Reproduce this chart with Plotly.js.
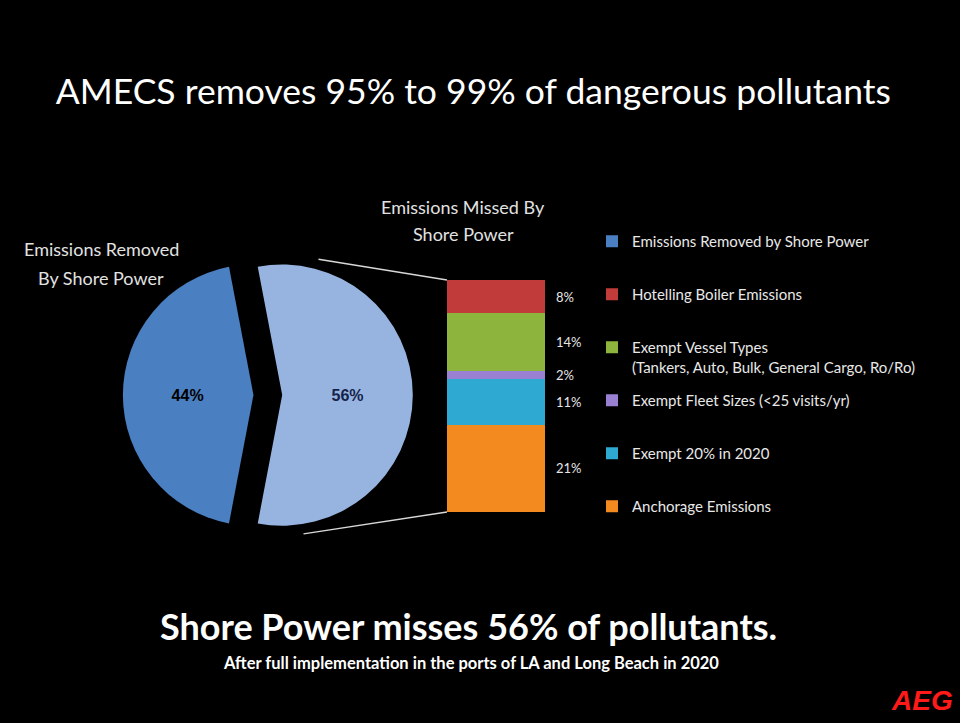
<!DOCTYPE html>
<html>
<head>
<meta charset="utf-8">
<script src="https://cdn.plot.ly/plotly-3.0.1.min.js"></script>
<style>html,body{margin:0;padding:0;background:#000;}#chart{width:960px;height:723px;}</style>
</head>
<body>
<div id="chart"></div>
<script>
// ---- data ----
var pieLabels = ["Emissions Removed by Shore Power", "Emissions Missed by Shore Power"];
var pieValues = [44, 56];
var pieColors = ["#4a7fc2", "#97b4e0"];

// Breakdown of the missed share, listed top-to-bottom as in the legend
var missedLabels = [
  "Hotelling Boiler Emissions",
  "Exempt Vessel Types<br>(Tankers, Auto, Bulk, General Cargo, Ro/Ro)",
  "Exempt Fleet Sizes (<25 visits/yr)",
  "Exempt 20% in 2020",
  "Anchorage Emissions"
];
var missedValues = [8, 14, 2, 11, 21];
var missedColors = ["#c13b3a", "#8db43c", "#9a80d2", "#2ea9d2", "#f28a20"];

var titleText = "AMECS removes 95% to 99% of dangerous pollutants";
var subText = "Shore Power misses 56% of pollutants.";
var noteText = "After full implementation in the ports of LA and Long Beach in 2020";

// ---- build ----
var FONT = "Lato, 'Open Sans', sans-serif";
var traces = [];

// first slice centred at 9 o'clock
var firstSpan = pieValues[0] / (pieValues[0] + pieValues[1]) * 360;
traces.push({
  type: "pie",
  labels: pieLabels,
  values: pieValues,
  sort: false,
  direction: "counterclockwise",
  rotation: -90 - firstSpan / 2,
  pull: [0.11, 0.11],
  marker: { colors: pieColors, line: { width: 0 } },
  textinfo: "percent",
  texttemplate: "%{percent:.0%}",
  textposition: "inside",
  insidetextorientation: "horizontal",
  textfont: { family: "'Liberation Sans', Arial, sans-serif", size: 16, color: ["#000000", "#15234a"], weight: "bold" },
  domain: { x: [0.128, 0.430], y: [0.253, 0.654] },
  showlegend: false,
  hoverinfo: "label+percent"
});

// legend entry for the removed share (zero-height, stacked at the base)
traces.push({
  type: "bar",
  x: [0], y: [0],
  name: pieLabels[0] + "<br> ",
  marker: { color: pieColors[0], line: { width: 0 } },
  width: 1,
  legendrank: 1,
  legendgroup: "g0",
  hoverinfo: "skip",
  xaxis: "x", yaxis: "y"
});

// stacked bar: bottom segment first
for (var i = missedValues.length - 1; i >= 0; i--) {
  var lbl = missedLabels[i].indexOf("<br>") >= 0 ? missedLabels[i] : missedLabels[i] + "<br> ";
  traces.push({
    type: "bar",
    x: [0],
    y: [missedValues[i]],
    name: lbl,
    marker: { color: missedColors[i], line: { width: 0 } },
    width: 1,
    legendrank: i + 2,
    legendgroup: "g" + (i + 1),
    hoverinfo: "name+y",
    xaxis: "x", yaxis: "y"
  });
}

// value labels to the right of the stacked bar
var annotations = [];
var cum = 0;
for (var j = missedValues.length - 1; j >= 0; j--) {
  var mid = cum + missedValues[j] / 2;
  cum += missedValues[j];
  annotations.push({
    xref: "x", yref: "y", x: 0.5, y: mid, xanchor: "left", xshift: 9,
    text: missedValues[j] + "%", showarrow: false,
    font: { family: FONT, size: 13, color: "#e6e6e6" }
  });
}
var total = cum;

// connector lines from the pie to the bar
annotations.push({
  xref: "x", yref: "y", x: -0.5, y: total, text: "", showarrow: true,
  arrowhead: 0, arrowwidth: 1.3, arrowcolor: "#d8d8d8", ax: -130, ay: -21
});
annotations.push({
  xref: "x", yref: "y", x: -0.5, y: 0, text: "", showarrow: true,
  arrowhead: 0, arrowwidth: 1.3, arrowcolor: "#d8d8d8", ax: -145, ay: 22
});

function txt(x, y, s, size, anchor) {
  annotations.push({
    xref: "paper", yref: "paper", x: x / 960, y: 1 - y / 723,
    xanchor: anchor || "center", yanchor: "middle",
    text: s, showarrow: false,
    font: { family: FONT, size: size, color: "#e2e2e2" }
  });
}
txt(101, 249, "Emissions Removed", 18);
txt(101, 278, "By Shore Power", 18);
txt(463, 207, "Emissions Missed By", 18);
txt(463, 234, "Shore Power", 18);

annotations.push({
  xref: "paper", yref: "paper", x: 468 / 960, y: 1 - 626 / 723, xanchor: "center", yanchor: "middle",
  text: "<b>" + subText + "</b>", showarrow: false,
  font: { family: FONT, size: 36, color: "#ffffff" }
});
annotations.push({
  xref: "paper", yref: "paper", x: 471 / 960, y: 1 - 663 / 723, xanchor: "center", yanchor: "middle",
  text: "<b>" + noteText + "</b>", showarrow: false,
  font: { family: FONT, size: 16.5, color: "#ffffff" }
});
annotations.push({
  xref: "paper", yref: "paper", x: 955 / 960, y: 1 - 700 / 723, xanchor: "right", yanchor: "middle",
  text: "<b><i>AEG</i></b>", showarrow: false,
  font: { family: "'Liberation Sans', Arial, sans-serif", size: 28, color: "#ff1a1a" }
});

var layout = {
  width: 960, height: 723,
  paper_bgcolor: "#000000", plot_bgcolor: "rgba(0,0,0,0)",
  margin: { l: 0, r: 0, t: 0, b: 0 },
  title: {
    text: titleText, x: 0.493, xanchor: "center", y: 1 - 92 / 723, yanchor: "middle",
    font: { family: FONT, size: 35.5, color: "#ffffff" }
  },
  barmode: "stack",
  bargap: 0,
  xaxis: {
    domain: [447 / 960, 545 / 960], range: [-0.5, 0.5],
    visible: false, fixedrange: true
  },
  yaxis: {
    domain: [1 - 512 / 723, 1 - 280 / 723], range: [0, 56],
    visible: false, fixedrange: true
  },
  showlegend: true,
  legend: {
    x: 592 / 960, xanchor: "left", y: 1 - 225 / 723, yanchor: "top",
    bgcolor: "rgba(0,0,0,0)",
    font: { family: FONT, size: 15, color: "#e8e8e8" },
    valign: "top",
    tracegroupgap: 11,
    traceorder: "grouped"
  },
  annotations: annotations
};

Plotly.newPlot("chart", traces, layout, { displayModeBar: false, staticPlot: true });
</script>
</body>
</html>
